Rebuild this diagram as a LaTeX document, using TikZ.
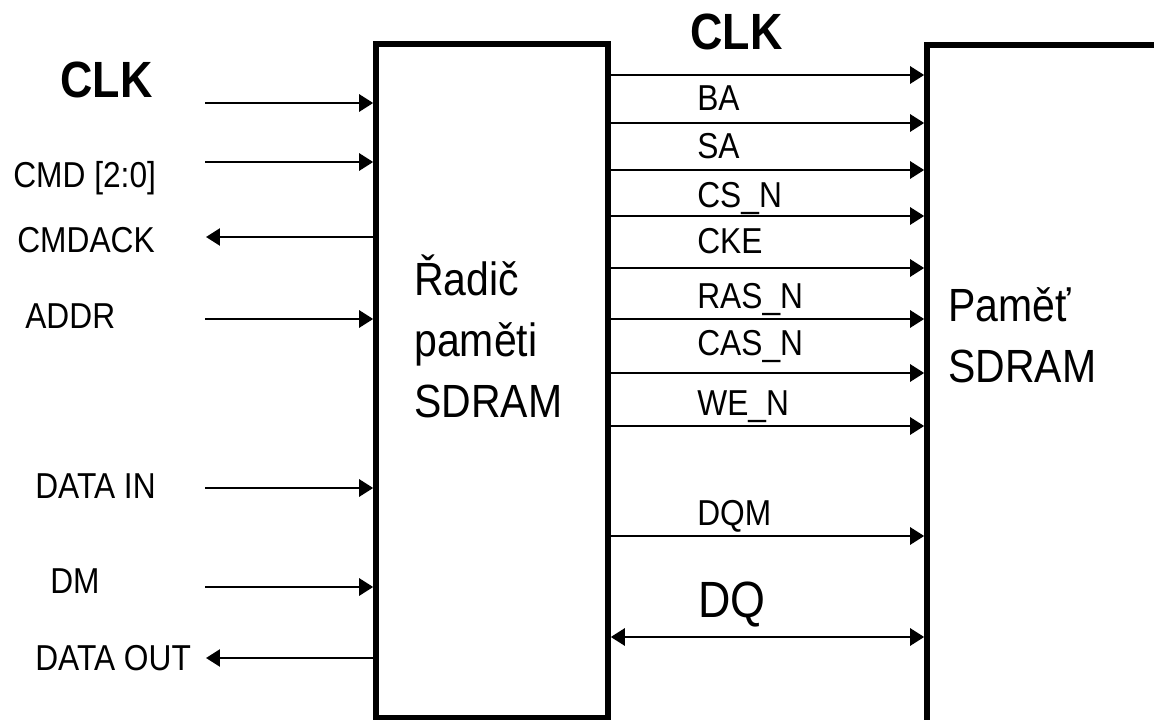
\documentclass[tikz,border=0pt]{standalone}
\usepackage{fontspec}
\setmainfont{Liberation Sans}[FakeStretch=0.88]
\usetikzlibrary{arrows.meta,positioning}
\tikzset{
  blok/.style={draw,line width=3.2pt,fill=white},
  sig/.style={line width=1.5pt,-{Triangle[length=0.28cm,width=0.34cm]}},
  bsig/.style={line width=1.5pt,{Triangle[length=0.28cm,width=0.34cm]}-{Triangle[length=0.28cm,width=0.34cm]}},
  lbl/.style={inner sep=0pt,anchor=base west,font=\fontsize{20.5}{24}\selectfont},
  clklbl/.style={lbl,font=\fontsize{29}{34}\selectfont\bfseries},
  boxtext/.style={inner sep=0pt,anchor=base west,align=left,font=\fontsize{26.5}{34.5}\selectfont},
}
\begin{document}
\begin{tikzpicture}[x=0.02cm,y=-0.02cm]
  \useasboundingbox (0,0) rectangle (1154,720);
  %% -- Boxes ------------------------------------------------------------
  \node[blok,minimum width=4.64cm,minimum height=13.48cm] (ctrl) at (492,381) {};
  \node[blok,anchor=north west,minimum width=6cm,minimum height=14.4cm] (mem) at (924.2,42.2) {};
  \node[boxtext] (ctrltxt) at (414,417) {Řadič\\paměti\\SDRAM};
  \node[boxtext] (memtxt) at (948,382) {Paměť\\SDRAM};

  %% -- Controller inputs / outputs --------------------------------------
  \node[clklbl] (lclk) at (60,97) {CLK};
  \coordinate (iclk) at (205,103);
  \draw[sig] (iclk) -- (iclk -| ctrl.west);
  \foreach \nm/\y/\lx/\ly/\txt in {cmd/162/13/187/{CMD [2:0]},addr/319/25/328/ADDR,
                                   din/488/35/498/DATA IN,dm/587/50/593/DM}{
    \node[lbl] (l\nm) at (\lx,\ly) {\txt};
    \coordinate (i\nm) at (205,\y);
    \draw[sig] (i\nm) -- (i\nm -| ctrl.west);
  }
  \foreach \nm/\y/\lx/\ly/\txt in {ack/237/17/252/CMDACK,dout/658/35/670/DATA OUT}{
    \node[lbl] (l\nm) at (\lx,\ly) {\txt};
    \coordinate (o\nm) at (206,\y);
    \draw[sig] (o\nm -| ctrl.west) -- (o\nm);
  }

  %% -- Controller -> SDRAM ----------------------------------------------
  \node[clklbl] (rclk) at (690,50) {CLK};
  \coordinate (rclkc) at (700,75);
  \draw[sig] (rclkc -| ctrl.east) -- (rclkc -| mem.west);
  \foreach \nm/\y/\ly/\txt in {ba/123/110/BA,sa/170/158/SA,cs/216/207/CS\_N,cke/268/253/CKE,
                               ras/319/308/RAS\_N,cas/373/355/CAS\_N,we/426/415/WE\_N,dqm/536/525/DQM}{
    \coordinate (r\nm) at (700,\y);
    \draw[sig] (r\nm -| ctrl.east) -- (r\nm -| mem.west);
    \node[lbl] (l\nm) at (697,\ly) {\txt};
  }
  \node[lbl,font=\fontsize{29}{34}\selectfont] (ldq) at (698,617) {DQ};
  \coordinate (rdq) at (700,637);
  \draw[bsig] (rdq -| ctrl.east) -- (rdq -| mem.west);
\end{tikzpicture}
\end{document}
